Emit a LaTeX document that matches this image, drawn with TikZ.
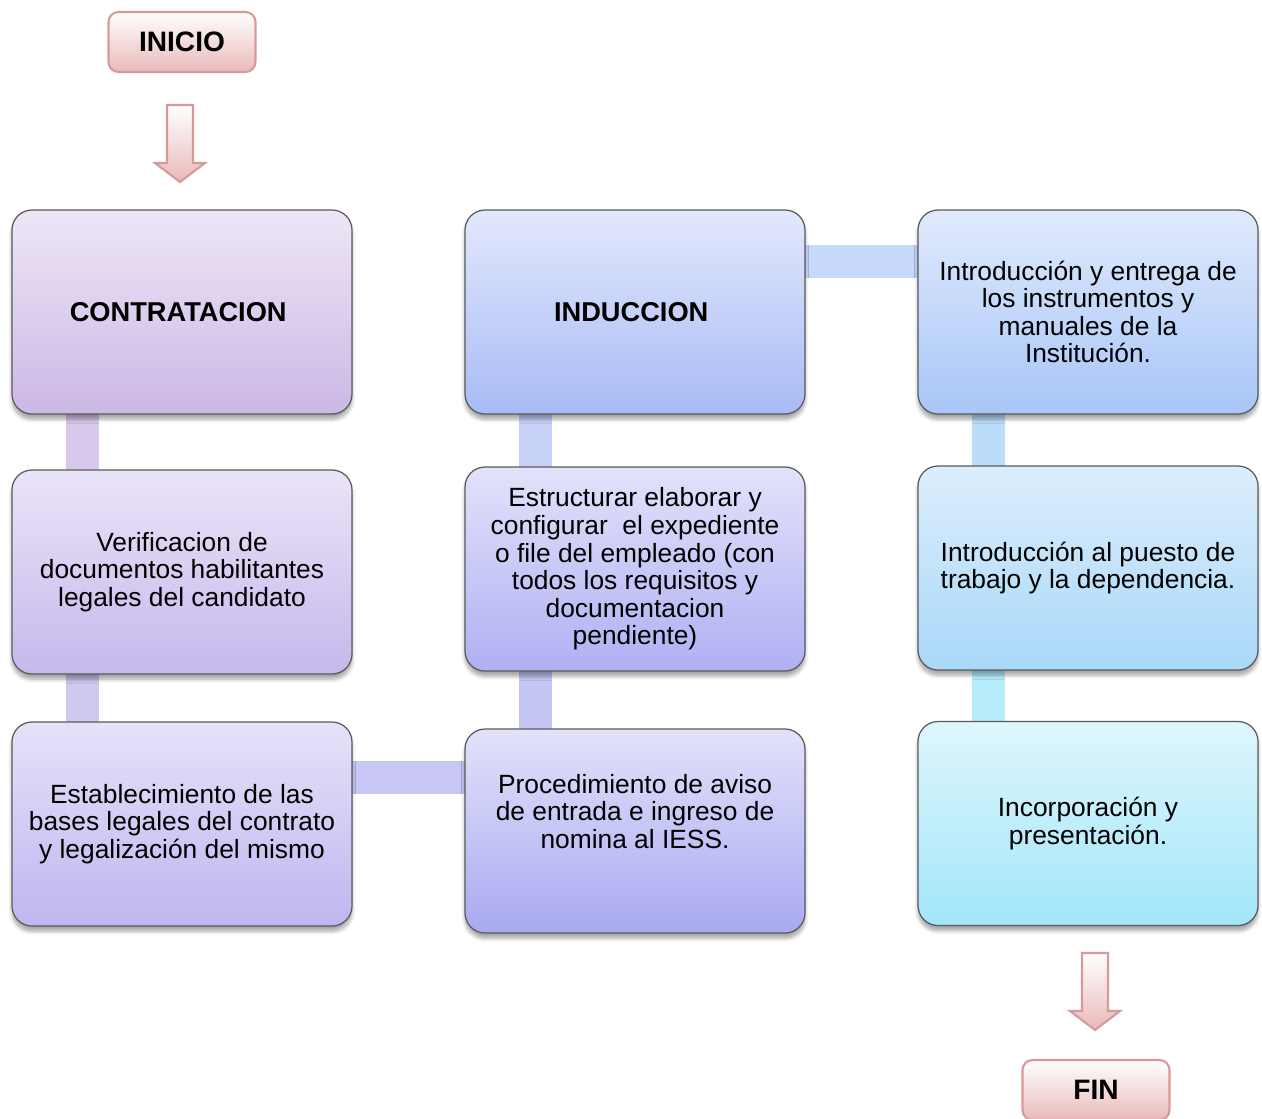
\documentclass[tikz,border=0pt]{standalone}
\usepackage{fontspec}
\setmainfont{Liberation Sans}
\usepackage{tikz}
\usetikzlibrary{shapes,shadows.blur}
\pgfdeclarelayer{bg}
\pgfsetlayers{bg,main}

\definecolor{pinkline}{HTML}{D69A9A}
\definecolor{pinkfill}{HTML}{E9B9B9}
\definecolor{boxline}{HTML}{5A5A5A}

\begin{document}
\begin{tikzpicture}[
	box/.style={draw=boxline, line width=0.7pt, rounded corners=0.4cm,
		minimum width=6.8cm, minimum height=4.08cm, inner sep=0pt, align=center,
		font=\fontsize{15}{15.7}\selectfont,
		blur shadow={shadow xshift=0pt, shadow yshift=-3pt, shadow blur steps=6, shadow opacity=35}},
	endbox/.style={draw=pinkline, line width=1.2pt, rounded corners=0.2cm,
		minimum width=2.94cm, minimum height=1.2cm, inner sep=0pt,
		top color=white, bottom color=pinkfill, font=\fontsize{16}{18}\selectfont\bfseries},
	bar/.style={line width=0.66cm},
	downarrow/.pic={
		\draw[pinkline, line width=1.2pt, top color=white, bottom color=pinkfill]
			(-0.26,0) -- (0.26,0) -- (0.26,-1.16) -- (0.5,-1.16) -- (0,-1.54)
			-- (-0.5,-1.16) -- (-0.26,-1.16) -- cycle;
	}
]
		\useasboundingbox (0,0) rectangle (25.24,-22.36);

		% start and end
		\node[endbox] (Inicio) at (3.64,-0.84) {INICIO};
		\node[endbox] (Fin) at (21.92,-21.8) {FIN};
		\pic at (3.6,-2.1) {downarrow};
		\pic at (21.9,-19.06) {downarrow};

		% first column
		\node[box, top color={rgb,255:red,238;green,230;blue,246}, bottom color={rgb,255:red,203;green,184;blue,229}] (Contratacion) at (3.64,-6.24) {
			\fontsize{15.5}{16}\selectfont\textbf{CONTRATACION}
		};
		\node[box, top color={rgb,255:red,234;green,228;blue,248}, bottom color={rgb,255:red,198;green,184;blue,236}] (Verificacion) at (3.64,-11.44) {
			Verificacion de\\documentos habilitantes\\legales del candidato
		};
		\node[box, top color={rgb,255:red,230;green,226;blue,249}, bottom color={rgb,255:red,191;green,182;blue,240}] (Establecimiento) at (3.64,-16.48) {
			Establecimiento de las\\bases legales del contrato\\y legalización del mismo
		};

		% second column
		\node[box, top color={rgb,255:red,226;green,232;blue,252}, bottom color={rgb,255:red,169;green,187;blue,245}] (Induccion) at (12.70,-6.24) {
			\fontsize{15.5}{16}\selectfont\textbf{INDUCCION}
		};
		\node[box, top color={rgb,255:red,226;green,226;blue,251}, bottom color={rgb,255:red,176;green,176;blue,243}] (Estructurar) at (12.70,-11.38) {
			Estructurar elaborar y\\configurar\ \ el expediente\\o file del empleado (con\\todos los requisitos y\\documentacion\\pendiente)
		};
		\node[box, top color={rgb,255:red,226;green,226;blue,251}, bottom color={rgb,255:red,169;green,169;blue,241}] (Procedimiento) at (12.70,-16.62) {
			Procedimiento de aviso\\de entrada e ingreso de\\nomina al IESS.\\[7pt]\mbox{}
		};

		% third column
		\node[box, top color={rgb,255:red,224;green,234;blue,253}, bottom color={rgb,255:red,168;green,198;blue,247}] (Instrumentos) at (21.76,-6.24) {
			Introducción y entrega de\\los instrumentos y\\manuales de la\\Institución.
		};
		\node[box, top color={rgb,255:red,220;green,238;blue,252}, bottom color={rgb,255:red,168;green,216;blue,248}] (Puesto) at (21.76,-11.36) {
			Introducción al puesto de\\trabajo y la dependencia.
		};
		\node[box, top color={rgb,255:red,223;green,246;blue,253}, bottom color={rgb,255:red,162;green,230;blue,249}] (Incorporacion) at (21.76,-16.47) {
			Incorporación y\\presentación.
		};

		% links behind the boxes
		\begin{pgfonlayer}{bg}
		\draw[bar, draw={rgb,255:red,216;green,201;blue,236}] ([xshift=-2cm]Contratacion.center) -- ([xshift=-2cm]Verificacion.center);
		\draw[bar, draw={rgb,255:red,208;green,200;blue,238}] ([xshift=-2cm]Verificacion.center) -- ([xshift=-2cm]Establecimiento.center);
		\draw[bar, draw={rgb,255:red,200;green,198;blue,244}] ([yshift=0.94cm]Establecimiento.center) -- ([yshift=1.08cm]Procedimiento.center);
		\draw[bar, draw={rgb,255:red,198;green,198;blue,245}] ([xshift=-2cm]Procedimiento.center) -- ([xshift=-2cm]Estructurar.center);
		\draw[bar, draw={rgb,255:red,200;green,210;blue,248}] ([xshift=-2cm]Estructurar.center) -- ([xshift=-2cm]Induccion.center);
		\draw[bar, draw={rgb,255:red,198;green,216;blue,252}] ([yshift=1.02cm]Induccion.center) -- ([yshift=1.02cm]Instrumentos.center);
		\draw[bar, draw={rgb,255:red,188;green,221;blue,249}] ([xshift=-2cm]Instrumentos.center) -- ([xshift=-2cm]Puesto.center);
		\draw[bar, draw={rgb,255:red,182;green,236;blue,250}] ([xshift=-2cm]Puesto.center) -- ([xshift=-2cm]Incorporacion.center);
		\end{pgfonlayer}
\end{tikzpicture}
\end{document}
